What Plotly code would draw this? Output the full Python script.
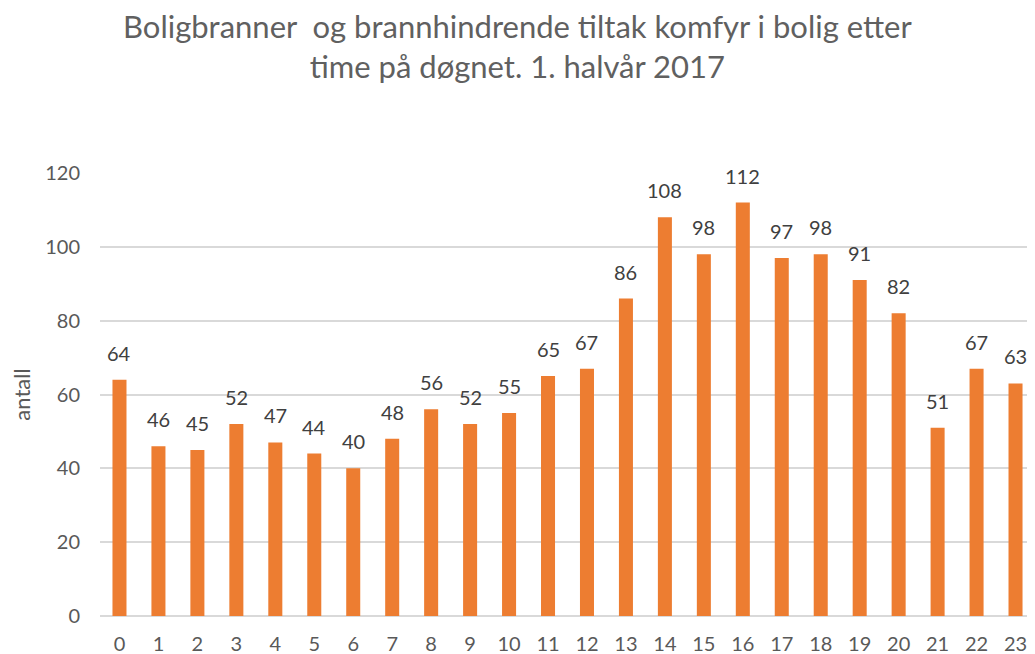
import plotly.graph_objects as go

hours = [str(h) for h in range(24)]
values = [64, 46, 45, 52, 47, 44, 40, 48, 56, 52, 55, 65, 67, 86, 108, 98, 112, 97, 98, 91, 82, 51, 67, 63]
y_ticks = [0, 20, 40, 60, 80, 100, 120]
title_text = "Boligbranner  og brannhindrende tiltak komfyr i bolig etter<br>time på døgnet. 1. halvår 2017"
y_title = "antall"

FONT = "Lato, 'Open Sans', sans-serif"

fig = go.Figure(go.Bar(
    x=hours, y=values,
    marker=dict(color="#ED7D31", line=dict(width=0)),
    hoverinfo="x+y",
))

for h, v in zip(hours, values):
    fig.add_annotation(x=h, y=v, xref="x", yref="y", text=str(v), showarrow=False,
                       yanchor="bottom", xanchor="center", yshift=13,
                       font=dict(family=FONT, size=20, color="#404040"))

fig.add_annotation(text=title_text, xref="paper", yref="paper", x=0.446, y=1.2867,
                   xanchor="center", yanchor="middle", showarrow=False,
                   font=dict(family=FONT, size=31, color="#606060"))

fig.update_layout(
    width=1027, height=646,
    margin=dict(l=92, r=0, t=165, b=38),
    paper_bgcolor="white", plot_bgcolor="white",
    bargap=0.64,
    showlegend=False,
    font=dict(family=FONT, color="#595959"),
    xaxis=dict(type="category", tickfont=dict(size=20, color="#595959"),
               showgrid=False, showline=False, ticks="", ticklen=0,
               ticklabelstandoff=14, range=[-0.5, 23.5]),
    yaxis=dict(range=[0, 120], tickvals=y_ticks, showgrid=True, gridcolor="#D9D9D9",
               gridwidth=1.5, zeroline=True, zerolinecolor="#D9D9D9", zerolinewidth=1.5,
               tickfont=dict(size=20, color="#595959"), ticks="", ticklen=0,
               ticklabelstandoff=19,
               title=dict(text=y_title, font=dict(size=22, color="#595959"), standoff=12)),
)

fig.write_html("out.html")
